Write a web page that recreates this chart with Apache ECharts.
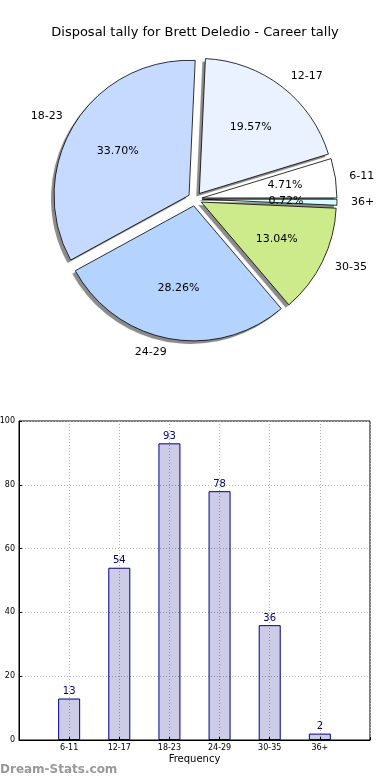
<!DOCTYPE html>
<html><head><meta charset="utf-8">
<script src="https://cdn.jsdelivr.net/npm/echarts@6/dist/echarts.min.js"></script>
<style>html,body{margin:0;padding:0;background:#fff}#c{width:390px;height:780px}</style>
</head><body><div id="c"></div>
<script>
const titleText = 'Disposal tally for Brett Deledio - Career tally';
const categories = ['6-11','12-17','18-23','24-29','30-35','36+'];
const counts = [13, 54, 93, 78, 36, 2];
const sliceColors = ['#ffffff','#eaf2ff','#c6daff','#b4d4ff','#cdeb8b','#d8ffff'];
const yMin = 0, yMax = 100, yStep = 20;
const xAxisName = 'Frequency';
const watermark = 'Dream-Stats.com';

const FONT = 'DejaVu Sans';
const total = counts.reduce((a,b)=>a+b,0);
const R = 135;
const CENTER = [195, 199];
const SHADOW_CENTER = [192, 202];
const OFFSET = 7;
const sliceBorder = {borderColor:'#000', borderWidth: 0.8};
const pieBase = {type: 'pie', radius: R, startAngle: 0, clockwise: false,
  selectedMode: 'multiple', selectedOffset: OFFSET, avoidLabelOverlap: false,
  emphasis: {disabled: true}};

const chart = echarts.init(document.getElementById('c'), null, {renderer:'canvas'});
chart.setOption({
  animation: false,
  backgroundColor: '#fff',
  title: {text: titleText, left: 'center', top: 21,
    textStyle: {fontSize: 13, fontWeight: 'normal', color: '#000', fontFamily: FONT}},
  graphic: [{type:'text', left: 0, top: 764,
    style:{text: watermark, fill:'#999', font: 'bold 12px "DejaVu Sans"'}}],
  grid: {left: 19, right: 20, top: 421, bottom: 40, show: true, borderColor: '#000', borderWidth: 1,
    backgroundColor:'transparent', containLabel: false, outerBoundsMode: 'none'},
  xAxis: {type:'value', min: 0, max: categories.length + 1, interval: 1,
    name: xAxisName, nameLocation: 'middle', nameGap: 14,
    nameTextStyle: {fontSize: 10, color:'#000', fontFamily: FONT},
    axisLine: {show: true, lineStyle:{color:'#000'}},
    axisTick: {show: true, inside: true, length: 3, lineStyle:{color:'#000'}},
    axisLabel: {fontSize: 8, color:'#000', fontFamily: FONT, margin: 4,
      formatter: v => categories[v-1] || ''},
    splitLine: {show: true, lineStyle:{color:'#b0b0b0', type:[1,2], width: 1}}},
  yAxis: {type:'value', min: yMin, max: yMax, interval: yStep,
    axisLine: {show: true, lineStyle:{color:'#000'}},
    axisTick: {show: true, inside: true, length: 3, lineStyle:{color:'#000'}},
    axisLabel: {fontSize: 8, color:'#000', fontFamily: FONT, margin: 4},
    splitLine: {show: true, lineStyle:{color:'#b0b0b0', type:[1,2], width: 1}}},
  series: [
    Object.assign({}, pieBase, {
      center: SHADOW_CENTER, silent: true, z: 1,
      data: categories.map((c,i)=>({name: c, value: counts[i], selected: true})),
      itemStyle: {color: 'rgba(40,40,40,0.45)', borderWidth: 0, shadowBlur: 1.5, shadowColor: 'rgba(0,0,0,0.3)'},
      select: {itemStyle: {color: 'rgba(40,40,40,0.45)', borderWidth: 0}},
      label: {show: false}, labelLine: {show: false}
    }),
    Object.assign({}, pieBase, {
      center: CENTER, z: 2,
      data: categories.map((c,i)=>({name: c, value: counts[i], selected: true,
        itemStyle: {color: sliceColors[i]},
        select: {itemStyle: Object.assign({color: sliceColors[i]}, sliceBorder)}})),
      itemStyle: sliceBorder,
      select: {itemStyle: sliceBorder},
      label: {show: true, position: 'outside', formatter: '{b}', fontSize: 11,
        color: '#000', fontFamily: FONT, distanceToLabelLine: 0},
      labelLine: {show: false, length: 14, length2: 0}
    }),
    Object.assign({}, pieBase, {
      center: CENTER, radius: R * 1.2, silent: true, z: 3,
      data: categories.map((c,i)=>({name: c, value: counts[i], selected: true})),
      itemStyle: {color: 'rgba(0,0,0,0)', borderWidth: 0},
      select: {itemStyle: {color: 'rgba(0,0,0,0)', borderWidth: 0}},
      label: {show: true, position: 'inside', fontSize: 11, color: '#000', fontFamily: FONT,
        formatter: p => (p.value / total * 100).toFixed(2) + '%'},
      labelLine: {show: false}
    }),
    {
      type: 'bar', xAxisIndex: 0, yAxisIndex: 0, barWidth: 22,
      data: counts.map((v,i)=>[i+1, v]),
      itemStyle: {color: 'rgba(0,0,128,0.2)', borderColor: '#000080', borderWidth: 1},
      label: {show: true, position: 'top', distance: 2, color: '#000080', fontSize: 10,
        fontFamily: FONT, formatter: p => p.value[1]},
      emphasis: {disabled: true}
    }
  ]
});
</script></body></html>
